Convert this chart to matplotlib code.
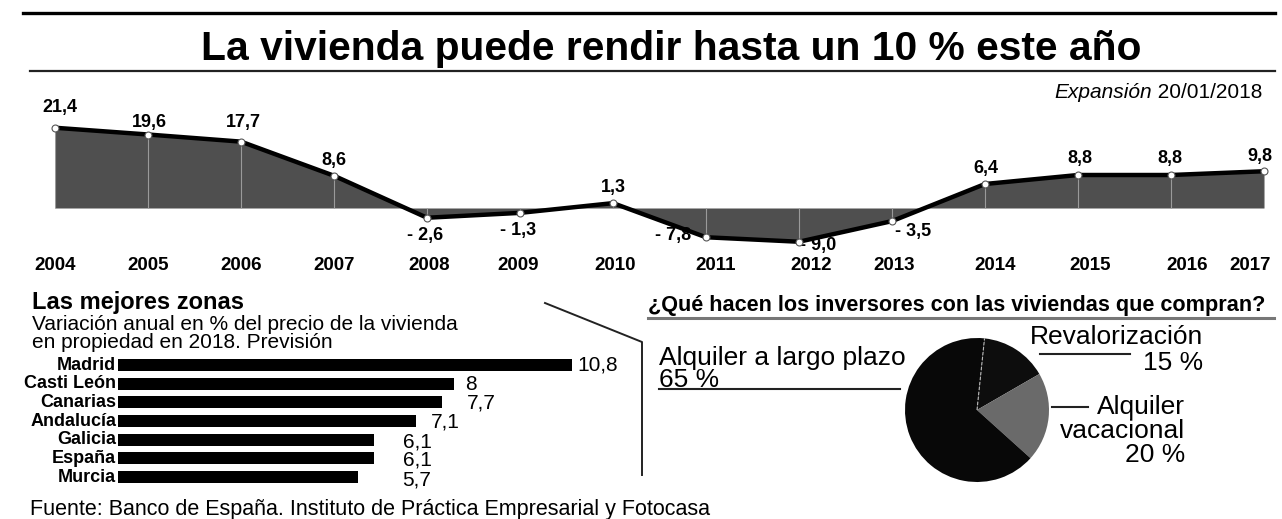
import matplotlib
matplotlib.use('Agg')
import matplotlib.pyplot as plt
from matplotlib.lines import Line2D
from matplotlib import transforms
import numpy as np

plt.rcParams['font.family'] = ['Liberation Sans', 'DejaVu Sans']

# data
years = [2004, 2005, 2006, 2007, 2008, 2009, 2010, 2011, 2012, 2013, 2014, 2015, 2016, 2017]
variacion = [21.4, 19.6, 17.7, 8.6, -2.6, -1.3, 1.3, -7.8, -9.0, -3.5, 6.4, 8.8, 8.8, 9.8]

zonas = ['Madrid', 'Casti León', 'Canarias', 'Andalucía', 'Galicia', 'España', 'Murcia']
prevision = [10.8, 8, 7.7, 7.1, 6.1, 6.1, 5.7]

usos = ['Revalorización', 'Alquiler vacacional', 'Alquiler a largo plazo']
usos_pct = [15, 20, 65]

W, H = 1282, 519
fig = plt.figure(figsize=(W / 100, H / 100), dpi=100)
fig.patch.set_facecolor('white')


def px(l, t, w, h):
    return [l / W, 1 - (t + h) / H, w / W, h / H]


def fx(x):
    return x / W


def fy(y):
    return 1 - y / H


def hline(x0, x1, y, **kw):
    fig.add_artist(Line2D([fx(x0), fx(x1)], [fy(y), fy(y)], transform=fig.transFigure, **kw))


# header
hline(23, 1275, 13, color='black', lw=2.4)
hline(30, 1275, 71, color='#222222', lw=1.6)
fig.text(fx(671), fy(60), 'La vivienda puede rendir hasta un 10 % este año',
         ha='center', va='baseline', fontsize=29.3, fontweight='bold')
fecha = fig.text(fx(1262), fy(92), ' 20/01/2018', ha='right', va='center', fontsize=15)
r = fig.canvas.get_renderer()
bb = fecha.get_window_extent(r)
fig.text(bb.x0 / W, fy(92), 'Expansión', ha='right', va='center', fontsize=15, style='italic')

# evolution chart
ax1 = fig.add_axes(px(55, 118, 1209, 135))
ax1.set_xlim(years[0], years[-1])
ax1.set_ylim(-12, 24)
ax1.axis('off')
ax1.fill_between(years, variacion, 0, color='#4f4f4f', lw=0)
ax1.vlines(years, 0, variacion, color='#9a9a9a', lw=0.8)
ax1.plot(years, variacion, color='black', lw=3.2, solid_joinstyle='round', zorder=3)
ax1.plot(years, variacion, 'o', ms=5, mfc='white', mec='#555555', mew=0.8, zorder=4, clip_on=False)

# label offsets in pixels from each point
offsets = [(5, 20), (1, 12), (2, 19), (0, 15), (-2, -18), (-2, -18), (0, 16),
           (-33, 2), (19, -4), (21, -10), (1, 15), (2, 17), (-1, 17), (-4, 15)]
for yr, v, (dx, dy) in zip(years, variacion, offsets):
    txt = f'{v:.1f}'.replace('.', ',')
    if v < 0:
        txt = '- ' + txt[1:]
    ax1.annotate(txt, (yr, v), xytext=(dx, dy), textcoords='offset pixels',
                 ha='center', va='center', fontsize=13, fontweight='bold')

# year labels under the chart
blend = transforms.blended_transform_factory(ax1.transData, fig.transFigure)
year_dx = [0, 0, 0, 0, 2, -2, 2, 10, 12, 2, 10, 12, 16, -14]
for yr, dx in zip(years, year_dx):
    ax1.text(yr, fy(266), str(yr),
             transform=blend + transforms.ScaledTranslation(dx / 100, 0, fig.dpi_scale_trans),
             ha='center', va='center', fontsize=13.5, fontweight='bold', clip_on=False)

# best zones
fig.text(fx(32), fy(309), 'Las mejores zonas', ha='left', va='baseline', fontsize=17, fontweight='bold')
fig.text(fx(32), fy(330), 'Variación anual en % del precio de la vivienda', ha='left', va='baseline', fontsize=15)
fig.text(fx(32), fy(348), 'en propiedad en 2018. Previsión', ha='left', va='baseline', fontsize=15)

ax2 = fig.add_axes(px(118, 355.7, 504.5, 130.7))
ax2.set_xlim(0, 12)
ax2.set_ylim(len(zonas) - 0.5, -0.5)
ax2.axis('off')
pos = list(range(len(zonas)))
ax2.barh(pos, prevision, height=0.64, color='black')
bar_off = [(5, 0), (11, -1), (25, -1), (14, -1), (29, -2), (29, -2), (45, -3)]
for p, z, v, (dx, dy) in zip(pos, zonas, prevision, bar_off):
    ax2.text(-0.04, p, z, ha='right', va='center', fontsize=13, fontweight='bold')
    lab = (f'{v:g}').replace('.', ',')
    ax2.annotate(lab, (v, p), xytext=(dx, dy), textcoords='offset pixels',
                 ha='left', va='center', fontsize=15)

fig.add_artist(Line2D([fx(545), fx(642), fx(642)], [fy(303), fy(342), fy(475)],
                      transform=fig.transFigure, color='#222222', lw=1.4))

fig.text(fx(30), fy(510), 'Fuente: Banco de España. Instituto de Práctica Empresarial y Fotocasa',
         ha='left', va='center', fontsize=15.5)

# investors pie
fig.text(fx(648), fy(305), '¿Qué hacen los inversores con las viviendas que compran?',
         ha='left', va='center', fontsize=15.6, fontweight='bold')
hline(648, 1274, 318, color='#777777', lw=2.2)

ax3 = fig.add_axes(px(887, 320, 180, 180))
ax3.set_xlim(-90 / 81, 90 / 81)
ax3.set_ylim(-90 / 81, 90 / 81)
ax3.axis('off')
wedges, _ = ax3.pie(usos_pct, colors=['#0d0d0d', '#6a6a6a', '#080808'], startangle=84,
                    counterclock=False, wedgeprops=dict(lw=0))
a = np.deg2rad(wedges[0].theta2)
ax3.plot([0, np.cos(a)], [0, np.sin(a)], color='#bbbbbb', lw=0.8, ls=(0, (3, 1.5)))

fig.text(fx(659), fy(358), 'Alquiler a largo plazo', ha='left', va='center', fontsize=19)
fig.text(fx(659), fy(380), '65 %', ha='left', va='center', fontsize=19)
hline(659, 900, 389, color='#222222', lw=1.5)

fig.text(fx(1203), fy(337), 'Revalorización', ha='right', va='center', fontsize=19)
fig.text(fx(1203), fy(363), '15 %', ha='right', va='center', fontsize=19)
hline(1040, 1130, 354, color='#222222', lw=1.5)

fig.text(fx(1185), fy(407), 'Alquiler', ha='right', va='center', fontsize=19)
fig.text(fx(1185), fy(431), 'vacacional', ha='right', va='center', fontsize=19)
fig.text(fx(1185), fy(455), '20 %', ha='right', va='center', fontsize=19)
hline(1052, 1088, 407, color='#222222', lw=1.5)

fig.savefig('out.png', dpi=100)
